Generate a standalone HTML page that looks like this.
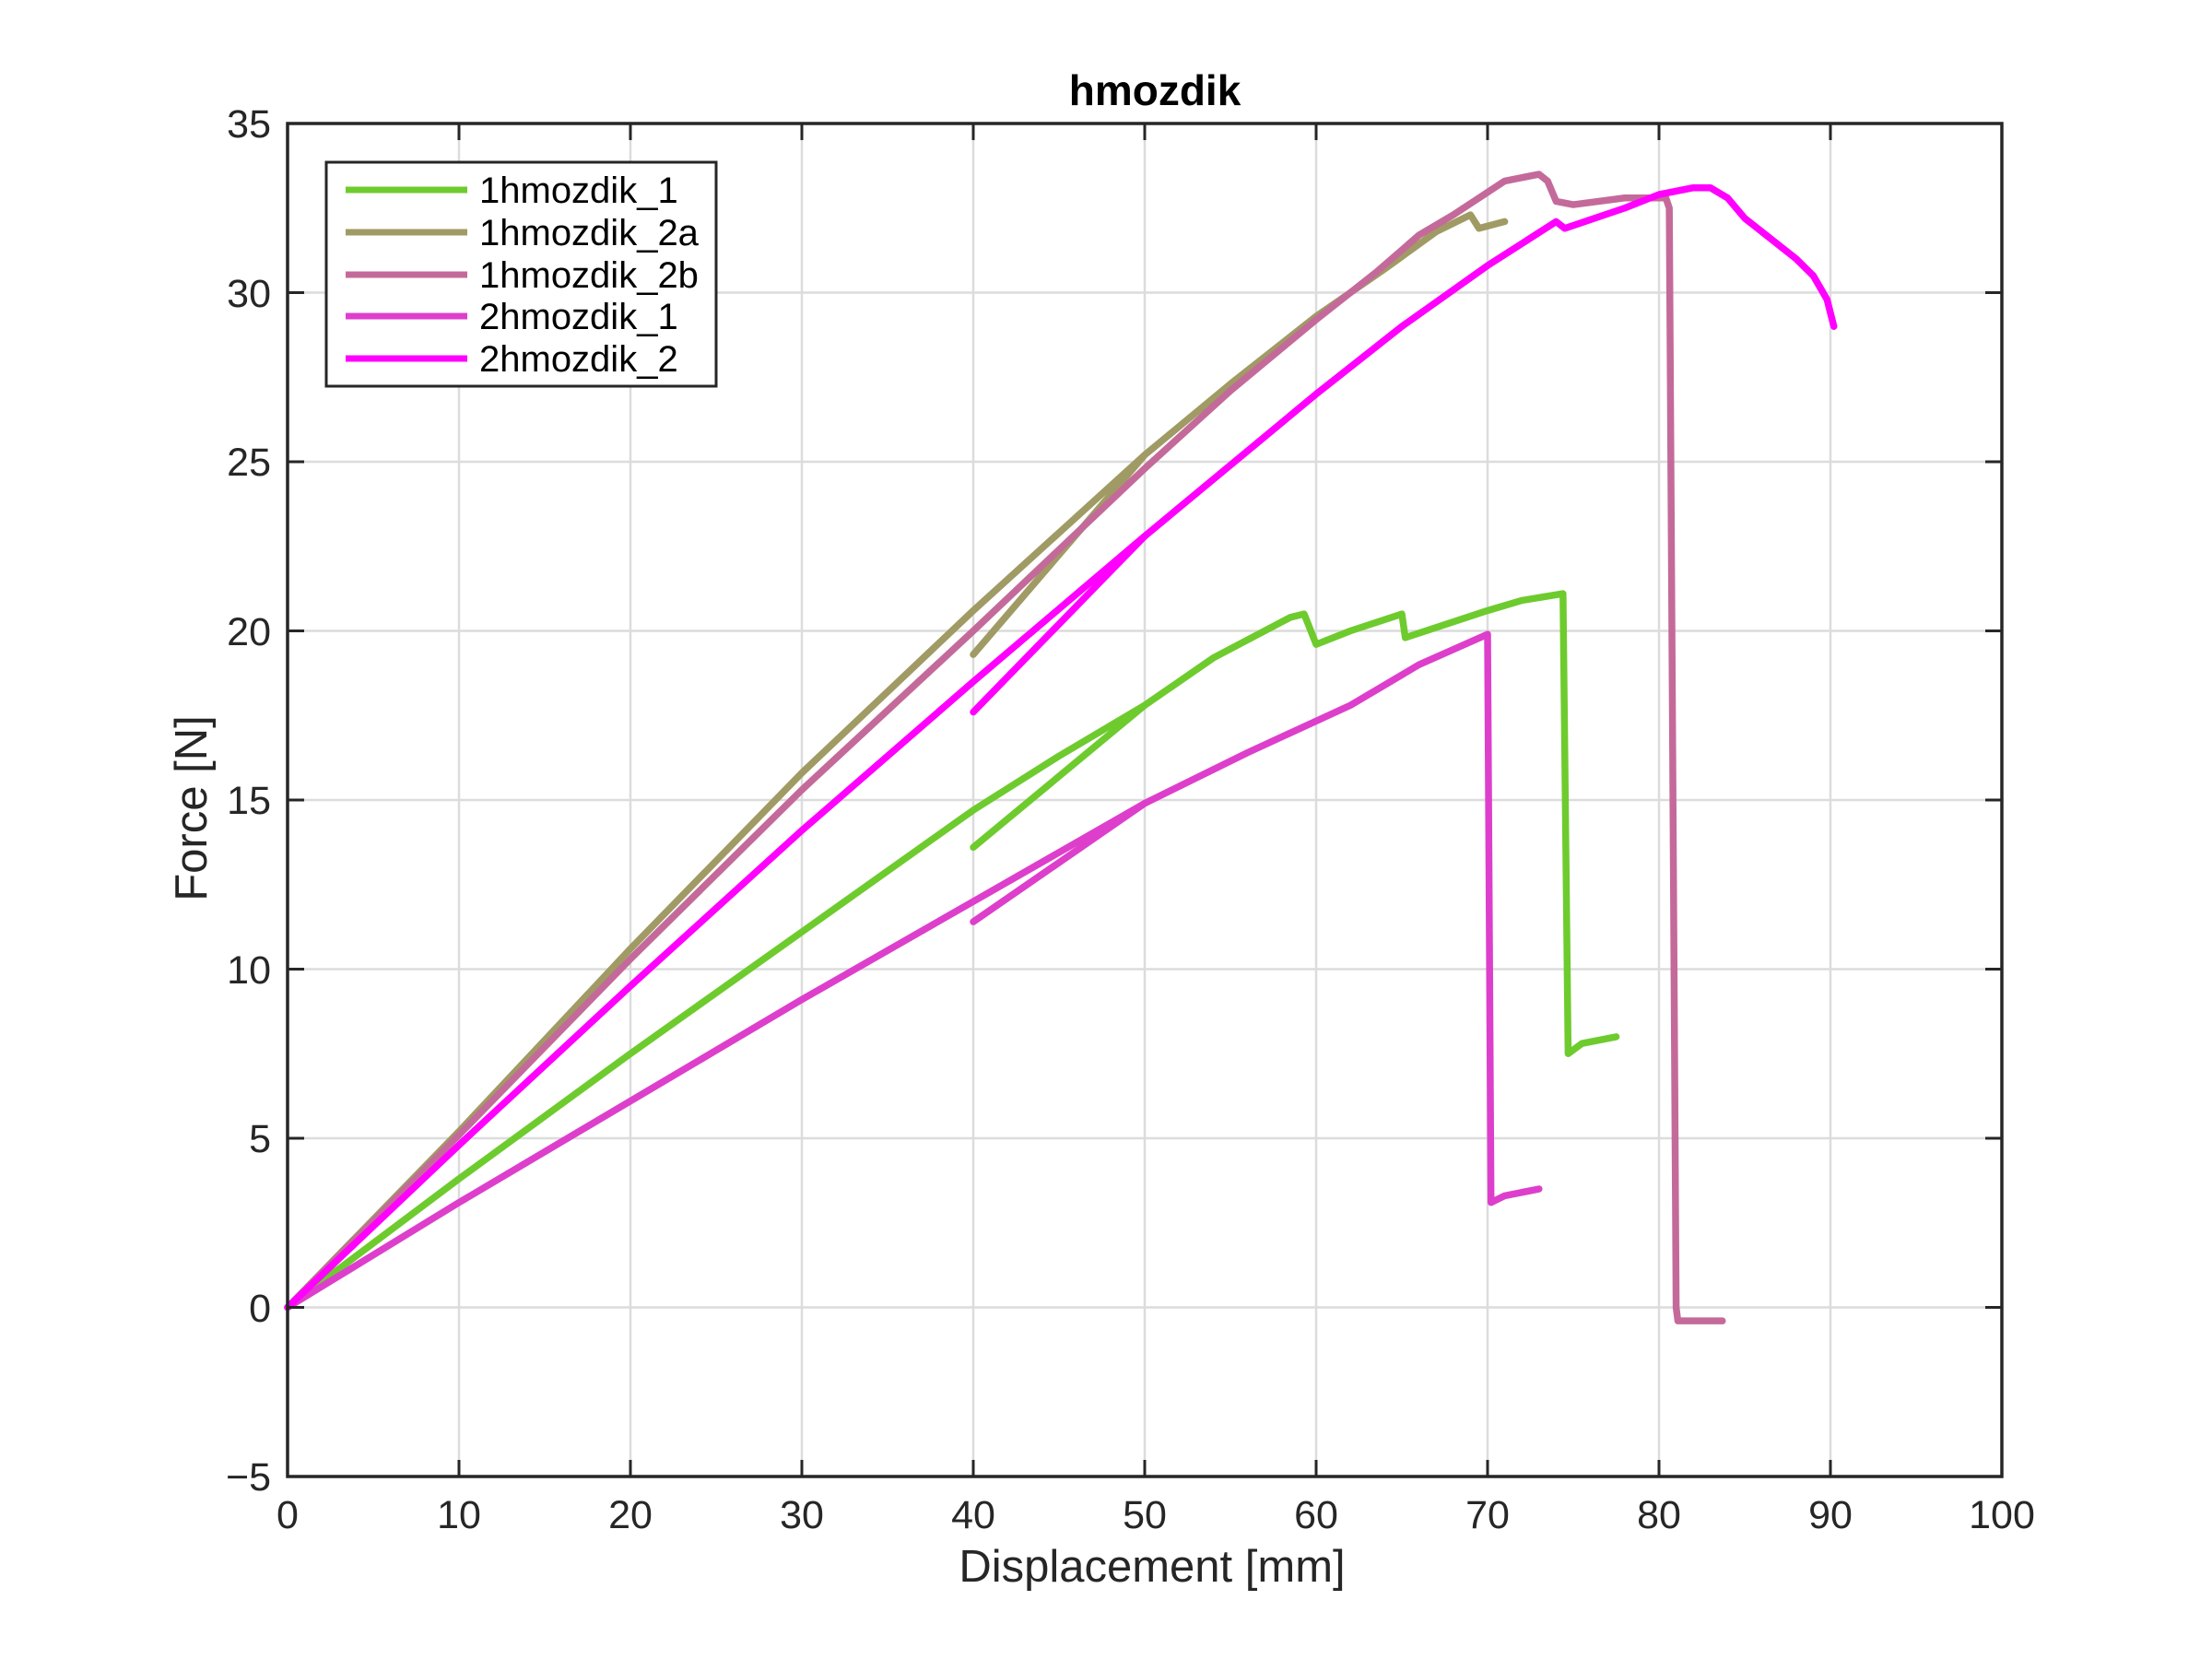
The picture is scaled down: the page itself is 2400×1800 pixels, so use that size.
<!DOCTYPE html>
<html><head><meta charset="utf-8"><style>
html,body{margin:0;padding:0;background:#fff;}
svg{display:block;}
text{font-family:"Liberation Sans","DejaVu Sans",sans-serif;fill:#262626;}
.p{fill:none;stroke-width:7.5;stroke-linejoin:round;stroke-linecap:round;vector-effect:non-scaling-stroke;}
</style></head><body>
<svg width="2400" height="1800" viewBox="0 0 2400 1800" xmlns="http://www.w3.org/2000/svg">
<rect width="2400" height="1800" fill="#fff"/>
<g stroke="#dcdcdc" stroke-width="2.5">
<line x1="498" y1="134" x2="498" y2="1602"/><line x1="684" y1="134" x2="684" y2="1602"/>
<line x1="870" y1="134" x2="870" y2="1602"/><line x1="1056" y1="134" x2="1056" y2="1602"/>
<line x1="1242" y1="134" x2="1242" y2="1602"/><line x1="1428" y1="134" x2="1428" y2="1602"/>
<line x1="1614" y1="134" x2="1614" y2="1602"/><line x1="1800" y1="134" x2="1800" y2="1602"/>
<line x1="1986" y1="134" x2="1986" y2="1602"/>
<line x1="312" y1="317.5" x2="2172" y2="317.5"/><line x1="312" y1="501" x2="2172" y2="501"/>
<line x1="312" y1="684.5" x2="2172" y2="684.5"/><line x1="312" y1="868" x2="2172" y2="868"/>
<line x1="312" y1="1051.5" x2="2172" y2="1051.5"/><line x1="312" y1="1235" x2="2172" y2="1235"/>
<line x1="312" y1="1418.5" x2="2172" y2="1418.5"/>
</g>
<g transform="translate(312,1418.5) scale(18.6,-36.7)">
<polyline class="p" stroke="#6ecb2e" points="0,0 10,3.8 20,7.5 30,11.1 40,14.7 45,16.3 50,17.8 54,19.2 58.5,20.4 59.3,20.5 60,19.6 62,20 65,20.5 65.2,19.8 67,20.1 70,20.6 72,20.9 74.4,21.1 74.7,7.5 75.5,7.8 77.5,8.0"/>
<polyline class="p" stroke="#6ecb2e" points="40,13.6 50,17.8"/>
<polyline class="p" stroke="#a09b64" points="0,0 10,5.2 20,10.6 30,15.8 40,20.6 50,25.2 55,27.3 60,29.3 64,30.7 67,31.8 69,32.3 69.5,31.9 71,32.1"/>
<polyline class="p" stroke="#a09b64" points="40,19.3 50,25.2"/>
<polyline class="p" stroke="#c46a9a" points="0,0 10,5.1 20,10.3 30,15.3 40,20.0 50,24.8 55,27.1 60,29.2 63.5,30.6 66,31.7 68,32.3 71,33.3 73,33.5 73.5,33.3 74,32.7 75,32.6 78,32.8 80.4,32.8 80.6,32.5 81,0 81.1,-0.4 83.7,-0.4"/>
<polyline class="p" stroke="#dd3fcc" points="0,0 10,3.1 20,6.1 30,9.1 40,12.0 50,14.9 56,16.4 62,17.8 66,19.0 70,19.9 70.2,3.1 71,3.3 73,3.5"/>
<polyline class="p" stroke="#dd3fcc" points="40,11.4 50,14.9"/>
<polyline class="p" stroke="#ff00ff" points="0,0 10,4.8 20,9.5 30,14.1 40,18.5 50,22.8 60,27 65,29 70,30.8 74,32.1 74.5,31.9 78,32.5 80,32.9 82,33.1 83,33.1 84,32.8 85,32.2 86,31.8 88,31.0 89,30.5 89.8,29.8 90.2,29.0"/>
<polyline class="p" stroke="#ff00ff" points="40,17.6 50,22.8"/>
</g>
<rect x="312" y="134" width="1860" height="1468" fill="none" stroke="#262626" stroke-width="3.5"/>
<g stroke="#262626" stroke-width="3">
<path d="M498,1602v-18M684,1602v-18M870,1602v-18M1056,1602v-18M1242,1602v-18M1428,1602v-18M1614,1602v-18M1800,1602v-18M1986,1602v-18"/>
<path d="M498,134v18M684,134v18M870,134v18M1056,134v18M1242,134v18M1428,134v18M1614,134v18M1800,134v18M1986,134v18"/>
<path d="M312,317.5h18M312,501h18M312,684.5h18M312,868h18M312,1051.5h18M312,1235h18M312,1418.5h18"/>
<path d="M2172,317.5h-18M2172,501h-18M2172,684.5h-18M2172,868h-18M2172,1051.5h-18M2172,1235h-18M2172,1418.5h-18"/>
</g>
<g font-size="43" text-anchor="middle">
<text x="312" y="1658">0</text><text x="498" y="1658">10</text><text x="684" y="1658">20</text>
<text x="870" y="1658">30</text><text x="1056" y="1658">40</text><text x="1242" y="1658">50</text>
<text x="1428" y="1658">60</text><text x="1614" y="1658">70</text><text x="1800" y="1658">80</text>
<text x="1986" y="1658">90</text><text x="2172" y="1658">100</text>
</g>
<g font-size="43" text-anchor="end">
<text x="294" y="149">35</text><text x="294" y="333">30</text><text x="294" y="516">25</text>
<text x="294" y="700">20</text><text x="294" y="883">15</text><text x="294" y="1067">10</text>
<text x="294" y="1250">5</text><text x="294" y="1434">0</text><text x="294" y="1617">−5</text>
</g>
<text x="1250" y="1716" font-size="49" text-anchor="middle">Displacement [mm]</text>
<text x="224" y="877" font-size="49" text-anchor="middle" transform="rotate(-90 224 877)">Force [N]</text>
<text x="1253" y="114" font-size="46" font-weight="bold" text-anchor="middle" style="fill:#000">hmozdik</text>
<rect x="354" y="176" width="423" height="243" fill="#fff" stroke="#262626" stroke-width="3"/>
<g stroke-width="7">
<line x1="375" y1="206" x2="507" y2="206" stroke="#6ecb2e"/>
<line x1="375" y1="252" x2="507" y2="252" stroke="#a09b64"/>
<line x1="375" y1="298" x2="507" y2="298" stroke="#c46a9a"/>
<line x1="375" y1="343" x2="507" y2="343" stroke="#dd3fcc"/>
<line x1="375" y1="389" x2="507" y2="389" stroke="#ff00ff"/>
</g>
<g font-size="40" style="fill:#000">
<text x="520" y="220" style="fill:#000">1hmozdik_1</text>
<text x="520" y="266" style="fill:#000">1hmozdik_2a</text>
<text x="520" y="312" style="fill:#000">1hmozdik_2b</text>
<text x="520" y="357" style="fill:#000">2hmozdik_1</text>
<text x="520" y="403" style="fill:#000">2hmozdik_2</text>
</g>
</svg>
</body></html>
